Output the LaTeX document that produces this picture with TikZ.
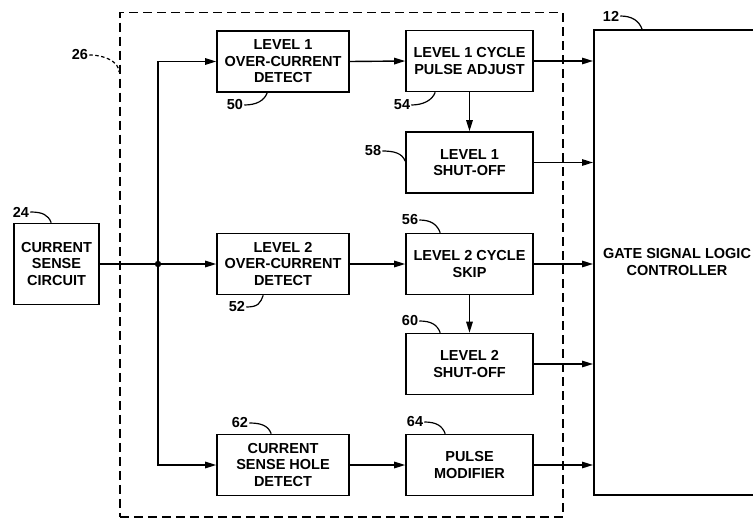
\documentclass[tikz,border=0pt]{standalone}
\usepackage{fontspec}
\setmainfont{Liberation Sans}
\usetikzlibrary{arrows.meta,calc}
\begin{document}
\begin{tikzpicture}[x=1pt,y=-1pt,
  blk/.style={draw,line width=1.6pt,minimum width=127pt,minimum height=61pt,inner sep=0pt,align=center,font=\fontsize{14.5}{16.5}\selectfont\bfseries},
  wide/.style={blk,minimum width=132pt},
  conn/.style={line width=1.4pt,-{Triangle[length=11pt,width=6.5pt]}},
  wire/.style={line width=1.4pt},
  lbl/.style={font=\fontsize{14.5}{16}\selectfont\bfseries,inner sep=1pt},
  lead/.style={line width=1.2pt}]
\useasboundingbox (0,0) rectangle (753,519);
% group and controller
\node[draw,dash pattern=on 9pt off 5pt,line width=1.5pt,minimum width=443pt,minimum height=504pt,inner sep=0pt,anchor=north west] (grp) at (119,12) {};
\node[draw,line width=1.6pt,minimum width=220pt,minimum height=465pt,inner sep=0pt,anchor=north west] (gate) at (593,29) {};
\node[align=center,inner sep=0pt,font=\fontsize{14.5}{16.5}\selectfont\bfseries] (gtext) at (677,262) {GATE SIGNAL LOGIC\\CONTROLLER};
% blocks
\node[blk,minimum width=85pt,minimum height=81pt] (cs) at (56.5,264) {CURRENT\\SENSE\\CIRCUIT};
\node[wide] (b50) at (283,61.5) {LEVEL 1\\OVER-CURRENT\\DETECT};
\node[wide] (b52) at (283,264) {LEVEL 2\\OVER-CURRENT\\DETECT};
\node[wide] (b62) at (283,465) {CURRENT\\SENSE HOLE\\DETECT};
\node[blk] (b54) at (469.5,61) {LEVEL 1 CYCLE\\PULSE ADJUST};
\node[blk] (b58) at (469.5,162.5) {LEVEL 1\\SHUT-OFF};
\node[blk] (b56) at (469.5,264) {LEVEL 2 CYCLE\\SKIP};
\node[blk] (b60) at (469.5,364) {LEVEL 2\\SHUT-OFF};
\node[blk] (b64) at (469.5,465) {PULSE\\MODIFIER};
% bus
\coordinate (j) at (158,264);
\draw[wire] (cs.east) -- (j);
\fill (j) circle (3.2pt);
\draw[conn] (j) -- (b52.west);
\draw[conn] (j) |- (b50.west);
\draw[conn] (j) |- (b62.west);
% chains
\draw[conn] (b50.east) -- (b54.west);
\draw[conn] (b52.east) -- (b56.west);
\draw[conn] (b62.east) -- (b64.west);
\draw[conn] (b54.south) -- (b58.north);
\draw[conn] (b56.south) -- (b60.north);
\draw[conn] (b54.east) -- (b54.east -| gate.west);
\draw[conn] (b58.east) -- (b58.east -| gate.west);
\draw[conn] (b56.east) -- (b56.east -| gate.west);
\draw[conn] (b60.east) -- (b60.east -| gate.west);
\draw[conn] (b64.east) -- (b64.east -| gate.west);
% labels
\node[lbl] (l26) at (80,55) {26};
\node[lbl] (l50) at (235,105) {50};
\node[lbl] (l54) at (402,105) {54};
\node[lbl] (l58) at (373,151) {58};
\node[lbl] (l12) at (611,16) {12};
\node[lbl] (l24) at (21,212) {24};
\node[lbl] (l52) at (237,307) {52};
\node[lbl] (l56) at (410,220) {56};
\node[lbl] (l60) at (410,321) {60};
\node[lbl] (l62) at (240,423) {62};
\node[lbl] (l64) at (415,422) {64};
% leaders
\draw[lead,dash pattern=on 3.5pt off 2.5pt] (l26.east) .. controls +(16,0) and +(0,-10) .. ($(grp.north west)+(0,60)$);
\draw[lead] (l50.east) .. controls +(12,0) and +(-3,8) .. ($(b50.south west)+(51,0)$);
\draw[lead] (l54.east) .. controls +(12,0) and +(-3,8) .. ($(b54.south west)+(30,0)$);
\draw[lead] (l52.east) .. controls +(12,0) and +(-3,8) .. ($(b52.south west)+(47,0)$);
\draw[lead] (l58.east) .. controls +(12,0) and +(-3,-8) .. ($(b58.north west)+(0,30)$);
\draw[lead] (l12.east) .. controls +(12,0) and +(-3,-8) .. ($(gate.north west)+(49,0)$);
\draw[lead] (l24.east) .. controls +(12,0) and +(-3,-8) .. ($(cs.north west)+(38,0)$);
\draw[lead] (l56.east) .. controls +(12,0) and +(-3,-8) .. ($(b56.north west)+(35,0)$);
\draw[lead] (l60.east) .. controls +(12,0) and +(-3,-8) .. ($(b60.north west)+(35,0)$);
\draw[lead] (l62.east) .. controls +(12,0) and +(-3,-8) .. ($(b62.north west)+(55,0)$);
\draw[lead] (l64.east) .. controls +(12,0) and +(-3,-8) .. ($(b64.north west)+(40,0)$);
\end{tikzpicture}
\end{document}
